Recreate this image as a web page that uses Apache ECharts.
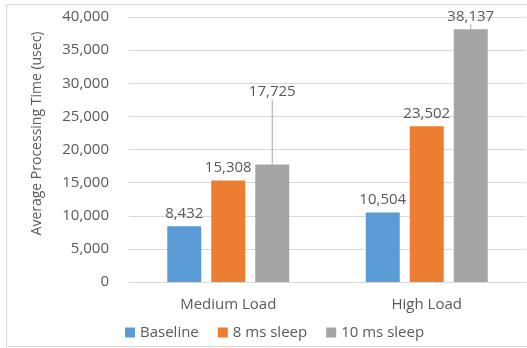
<!DOCTYPE html>
<html>
<head>
<meta charset="utf-8">
<script src="https://cdn.jsdelivr.net/npm/echarts@6/dist/echarts.min.js"></script>
<style>
  html, body { margin: 0; padding: 0; background: #fff; }
  #chart { width: 527px; height: 348px; }
</style>
</head>
<body>
<div id="chart"></div>
<script>
// Average processing time per load level, for each sleep setting
const categories = ['Medium Load', 'High Load'];
const seriesNames = ['Baseline', '8 ms sleep', '10 ms sleep'];
const baseline = [8432, 10504];
const sleep8ms = [15308, 23502];
const sleep10ms = [17725, 38137];
const seriesColors = ['#5b9bd5', '#ed7d31', '#a5a5a5'];

const textColor = '#595959';
const fontFamily = '"Open Sans", sans-serif';

const values = [baseline, sleep8ms, sleep10ms];

const chart = echarts.init(document.getElementById('chart'), null, { renderer: 'canvas' });

const series = values.map((data, i) => ({
  name: seriesNames[i],
  type: 'bar',
  data: data,
  barWidth: 34,
  barGap: '29.4%',
  itemStyle: { color: seriesColors[i] },
  label: {
    show: true,
    position: 'top',
    distance: 5,
    color: textColor,
    fontFamily: fontFamily,
    fontSize: 15,
    formatter: p => p.value.toLocaleString('en-US')
  },
  labelLine: { show: true, lineStyle: { color: '#a6a6a6', width: 1 } },
  // the 10 ms Medium Load label sits higher, joined to its bar by a leader line
  labelLayout: i === 2 ? (p => (p.dataIndex === 0 ? { dy: -60 } : {})) : undefined
}));

chart.setOption({
  animation: false,
  backgroundColor: '#ffffff',
  graphic: [{
    type: 'rect',
    shape: { x: 6.5, y: 4.5, width: 560, height: 342 },
    style: { fill: 'none', stroke: '#d9d9d9', lineWidth: 1 },
    silent: true,
    z: -1
  }],
  grid: { left: 129, right: 1, top: 17, bottom: 66 },
  legend: {
    left: 120,
    top: 320,
    icon: 'rect',
    itemWidth: 10,
    itemHeight: 10,
    itemGap: 19,
    textStyle: { color: textColor, fontFamily: fontFamily, fontSize: 15 },
    data: seriesNames
  },
  xAxis: {
    type: 'category',
    data: categories,
    axisLine: { lineStyle: { color: '#d9d9d9' } },
    axisTick: { show: false },
    axisLabel: { color: textColor, fontFamily: fontFamily, fontSize: 15, margin: 15 }
  },
  yAxis: {
    type: 'value',
    min: 0,
    max: 40000,
    interval: 5000,
    name: 'Average Processing Time (usec)',
    nameLocation: 'middle',
    nameGap: 85,
    nameTextStyle: {
      color: textColor,
      fontFamily: fontFamily,
      fontSize: 14,
      // the title sits a little above the middle of the axis
      padding: [0, 0, 0, 32]
    },
    axisLine: { show: false },
    axisTick: { show: false },
    splitLine: { lineStyle: { color: '#d9d9d9' } },
    axisLabel: {
      color: textColor,
      fontFamily: fontFamily,
      fontSize: 15,
      margin: 20,
      formatter: v => v.toLocaleString('en-US')
    }
  },
  series: series
});
</script>
</body>
</html>
